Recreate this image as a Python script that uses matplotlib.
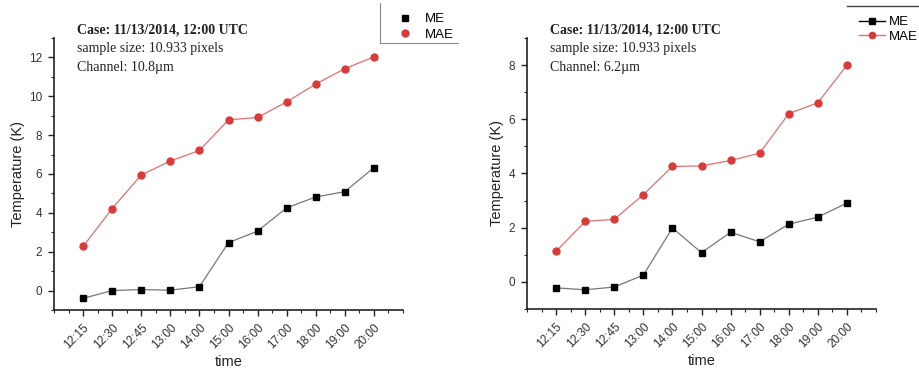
import matplotlib
matplotlib.use("Agg")
import matplotlib.pyplot as plt
from matplotlib.lines import Line2D
from matplotlib.ticker import MultipleLocator

plt.rcParams["font.family"] = ["Liberation Sans", "DejaVu Sans"]

times = ["12:15", "12:30", "12:45", "13:00", "14:00", "15:00", "16:00", "17:00", "18:00", "19:00", "20:00"]

me_108 = [-0.4, 0.0, 0.05, 0.02, 0.2, 2.47, 3.06, 4.26, 4.82, 5.09, 6.33]
mae_108 = [2.27, 4.22, 5.95, 6.67, 7.21, 8.79, 8.91, 9.71, 10.63, 11.42, 12.03]

me_62 = [-0.22, -0.29, -0.19, 0.25, 1.99, 1.08, 1.83, 1.48, 2.13, 2.39, 2.91]
mae_62 = [1.13, 2.23, 2.31, 3.22, 4.26, 4.28, 4.48, 4.75, 6.21, 6.61, 8.0]

channels = ["10.8\u00b5m", "6.2\u00b5m"]

W, H = 919, 370
fig = plt.figure(figsize=(W / 100, H / 100), dpi=100)

mred = "#d93a3a"
lred = "#e07070"


def make_ax(left_px, right_px, top_px, bot_px):
    return fig.add_axes([left_px / W, 1 - bot_px / H, (right_px - left_px) / W, (bot_px - top_px) / H])


axes = [make_ax(54, 403, 38, 310), make_ax(527, 876, 38, 309)]
data = [(me_108, mae_108, (-1, 13), 2), (me_62, mae_62, (-1, 9), 2)]

x = list(range(len(times)))
for i, (ax, (me, mae, ylim, step)) in enumerate(zip(axes, data)):
    ax.plot(x, mae, color=lred, lw=0.9, marker="o", ms=5, mfc=mred, mec=mred, zorder=3)
    ax.plot(x, me, color="#777777", lw=0.9, marker="s", ms=4.5, mfc="black", mec="black", zorder=3)
    ax.set_xlim(-1, 11)
    ax.set_ylim(*ylim)
    ax.set_xticks(x)
    ax.set_xticklabels(times, rotation=45, ha="right", rotation_mode="anchor", fontsize=8.5, color="#333333")
    ax.xaxis.set_minor_locator(MultipleLocator(0.5))
    ax.yaxis.set_major_locator(MultipleLocator(step))
    ax.yaxis.set_minor_locator(MultipleLocator(step / 2))
    for s in ["top", "right"]:
        ax.spines[s].set_visible(False)
    for s in ["left", "bottom"]:
        ax.spines[s].set_linewidth(1.2)
        ax.spines[s].set_color("#222222")
    ax.tick_params(axis="both", which="major", direction="out", length=4.5, width=1, colors="#222222",
                   labelsize=8.5, labelcolor="#333333", pad=4)
    ax.tick_params(axis="both", which="minor", direction="out", length=2.5, width=0.8, colors="#222222")
    ax.set_xlabel("time", fontsize=10.5, color="#222222", labelpad=3)
    ax.set_ylabel("Temperature (K)", fontsize=10.5, color="#222222", labelpad=3)
    ax.text(0.065, 1.055, "Case: 11/13/2014, 12:00 UTC", transform=ax.transAxes, family="Liberation Serif",
            fontweight="bold", fontsize=10, va="top", ha="left", color="#222222")
    ax.text(0.065, 0.985, "sample size: 10.933 pixels", transform=ax.transAxes, family="Liberation Serif",
            fontsize=10, va="top", ha="left", color="#222222")
    ax.text(0.065, 0.915, "Channel: " + channels[i], transform=ax.transAxes, family="Liberation Serif",
            fontsize=10, va="top", ha="left", color="#222222")

# Left legend: markers only, with partial box
h1 = [Line2D([], [], ls="none", marker="s", ms=4.5, color="black"),
      Line2D([], [], ls="none", marker="o", ms=5, color=mred)]
fig.legend(h1, ["ME", "MAE"], loc="upper left", bbox_to_anchor=(388 / W, 1 - 4 / H), frameon=False,
           fontsize=9.5, handlelength=1.2, handletextpad=0.9, labelspacing=0.25, borderpad=0.2)
fig.add_artist(Line2D([380 / W, 380 / W], [1 - 3 / H, 1 - 43 / H], color="#888888", lw=0.8))
fig.add_artist(Line2D([380 / W, 458 / W], [1 - 43 / H, 1 - 43 / H], color="#888888", lw=0.8))

# Right legend: lines with markers
h2 = [Line2D([], [], color="black", lw=1, marker="s", ms=4),
      Line2D([], [], color=lred, lw=1, marker="o", ms=4.5, mfc=mred, mec=mred)]
fig.legend(h2, ["ME", "MAE"], loc="upper left", bbox_to_anchor=(851 / W, 1 - 8 / H), frameon=False,
           fontsize=9.5, handlelength=2.0, handletextpad=0.3, labelspacing=0.2, borderpad=0.1)
fig.add_artist(Line2D([847 / W, 1.0], [1 - 6 / H, 1 - 6 / H], color="#444444", lw=1))

fig.savefig("out.png", dpi=100)
